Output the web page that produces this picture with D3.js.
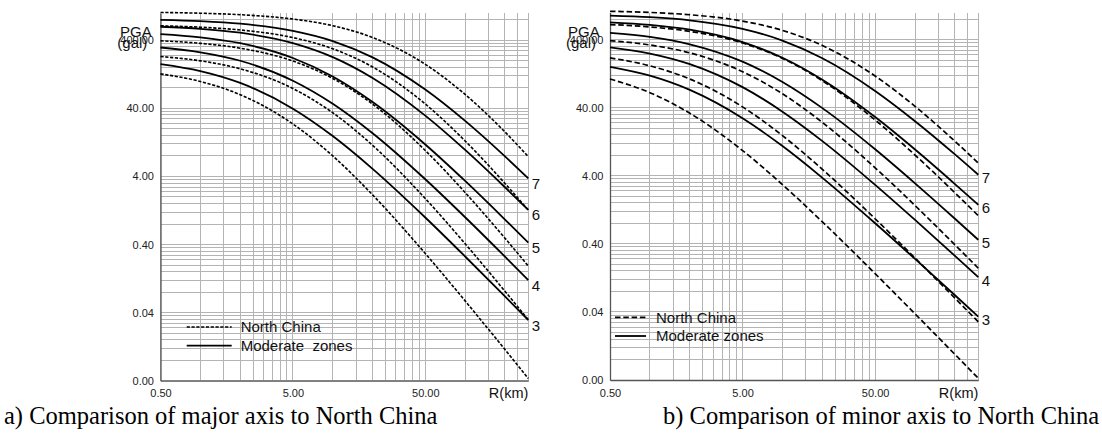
<!DOCTYPE html>
<html><head><meta charset="utf-8">
<script src="https://cdn.jsdelivr.net/npm/d3@7"></script>
<style>
html,body{margin:0;padding:0;background:#fff;}
svg text{font-family:"Liberation Sans",Arial,Helvetica,sans-serif;}
svg text.caption{font-family:"Liberation Serif","Times New Roman",serif;}
</style></head><body>
<svg id="chart" width="1102" height="434"></svg>
<script>
// ---------------- data ----------------
const distances = [0.5, 1, 2, 5, 10, 20, 50, 100, 200, 300];   // R (km)
const magnitudeLabels = ["7", "6", "5", "4", "3"];
const yTickValues = [0.004, 0.04, 0.4, 4, 40, 400];
const xTickValues = [0.5, 5, 50];

// a) major axis
const ncMajor7 = [1026, 999.5, 950, 821, 655, 440, 177.6, 64.1, 18.0, 7.82];
const ncMajor6 = [653.1, 622.6, 567.4, 438.2, 300.3, 162.2, 46.4, 13.29, 3.156, 1.283];
const ncMajor5 = [393.6, 360.8, 306.3, 198.3, 110.1, 46.2, 9.627, 2.323, 0.4951, 0.1935];
const ncMajor4 = [231.2, 199.6, 152.4, 78.3, 34.5, 11.47, 1.895, 0.4111, 0.0823, 0.0315];
const ncMajor3 = [128.5, 99.31, 63.58, 23.61, 8.014, 2.145, 0.2954, 0.0595, 0.01146, 0.004318];
const modMajor7 = [799.8, 764.5, 700.8, 551.3, 390.2, 224.7, 75.7, 26.21, 7.889, 3.744];
const modMajor6 = [632.4, 590.2, 517.1, 364.0, 226.5, 111.8, 31.26, 9.804, 2.775, 1.288];
const modMajor5 = [493.3, 442.8, 362.9, 220.0, 117.5, 49.6, 11.8, 3.434, 0.9307, 0.4252];
const modMajor4 = [313.3, 266.8, 200.3, 102.0, 46.76, 17.26, 3.640, 1.007, 0.2655, 0.1201];
const modMajor3 = [178.6, 141.2, 94.5, 39.57, 15.69, 5.176, 0.9986, 0.2669, 0.06902, 0.03103];

// b) minor axis
const ncMinor7 = [1042, 1002, 927.3, 747.8, 546.0, 327.8, 116.7, 41.77, 12.83, 6.141];
const ncMinor6 = [665.3, 614.4, 528.4, 356.6, 211.7, 99.54, 26.35, 8.054, 2.244, 1.035];
const ncMinor5 = [386.4, 333.3, 255.3, 135.2, 63.97, 24.26, 5.234, 1.461, 0.3870, 0.1753];
const ncMinor4 = [215.3, 164.7, 105.3, 41.08, 15.54, 4.960, 0.9337, 0.2472, 0.06362, 0.02856];
const ncMinor3 = [105.7, 66.37, 33.14, 9.380, 2.960, 0.8409, 0.1458, 0.03749, 0.009501, 0.004241];
const modMinor7 = [901.6, 852.4, 766.3, 574.8, 387.1, 212.7, 70.36, 25.29, 8.225, 4.139];
const modMinor6 = [717.8, 657.7, 558.6, 368.3, 216.3, 102.8, 29.10, 9.710, 3.020, 1.497];
const modMinor5 = [502.3, 437.6, 341.3, 189.5, 95.33, 39.38, 9.806, 3.098, 0.9352, 0.4584];
const modMinor4 = [308.3, 249.8, 174.7, 80.12, 34.96, 12.92, 2.943, 0.8982, 0.2660, 0.1296];
const modMinor3 = [158.9, 117.9, 72.92, 27.98, 10.91, 3.729, 0.8027, 0.2399, 0.07029, 0.03410];

const legendNames = ["North China", "Moderate zones"];
const captions = ["a) Comparison of major axis to North China", "b) Comparison of minor axis to North China"];

// ---------------- layout ----------------
const panels = [
  { x0: 160.5, x1: 528.3, yb: 380.7,
    nc: [ncMajor7, ncMajor6, ncMajor5, ncMajor4, ncMajor3],
    mod: [modMajor7, modMajor6, modMajor5, modMajor4, modMajor3],
    dash: "3.2,1.6", dashW: 1.6, labelDy: 5,
    legX1: 186.7, legX2: 231.7, legTextX: 240.7, legY1: 327, legY2: 345.7,
    modName: "Moderate  zones",
    pgaX: 120, galX: 117.3, caption: captions[0], capX: 4 },
  { x0: 610, x1: 978.3, yb: 380,
    nc: [ncMinor7, ncMinor6, ncMinor5, ncMinor4, ncMinor3],
    mod: [modMinor7, modMinor6, modMinor5, modMinor4, modMinor3],
    dash: "5.5,2.8", dashW: 1.7, labelDy: 3,
    legX1: 615, legX2: 646, legTextX: 656, legY1: 317.3, legY2: 336,
    modName: legendNames[1],
    pgaX: 568, galX: 566, caption: captions[1], capX: 663 }
];

const xGrid = [];
[0.5, 5, 50].forEach(b => { for (let k = 1; k <= 9; k++) { const v = b * k; if (v <= 300.0001) xGrid.push(v); } });
const yGrid = [];
[0.004, 0.04, 0.4, 4, 40, 400].forEach(b => { for (let k = 1; k <= 9; k++) { const v = b * k; if (v <= 1000) yGrid.push(v); } });

const svg = d3.select("#chart");

panels.forEach(p => {
  const g = svg.append("g");
  const x = d3.scaleLog().domain([0.5, 300]).range([p.x0, p.x1]);
  const y = d3.scaleLog().domain([0.004, 1000]).range([p.yb, p.yb - 367.5]);
  const top = y(1000);

  // grid
  g.append("g").selectAll("line").data(xGrid).join("line")
    .attr("x1", d => x(d)).attr("x2", d => x(d))
    .attr("y1", top).attr("y2", p.yb)
    .attr("stroke", "#b4b4b4").attr("stroke-width", 1).attr("shape-rendering", "crispEdges");
  g.append("g").selectAll("line").data(yGrid).join("line")
    .attr("y1", d => y(d)).attr("y2", d => y(d))
    .attr("x1", p.x0).attr("x2", p.x1)
    .attr("stroke", "#b4b4b4").attr("stroke-width", 1).attr("shape-rendering", "crispEdges");

  // axes
  const ya = g.append("g").attr("transform", `translate(${p.x0},0)`)
    .call(d3.axisLeft(y).tickValues(yTickValues).tickFormat(d3.format(".2f")).tickSize(0).tickSizeOuter(0).tickPadding(6.5));
  const xa = g.append("g").attr("transform", `translate(0,${p.yb})`)
    .call(d3.axisBottom(x).tickValues(xTickValues).tickFormat(d3.format(".2f")).tickSize(0).tickSizeOuter(0).tickPadding(8.8));
  [ya, xa].forEach(a => {
    a.select(".domain").attr("stroke", "#555").attr("stroke-width", 1.3);
    a.selectAll("text").attr("font-size", 11).attr("fill", "#222")
      .style("font-family", "'Liberation Sans',Arial,sans-serif");
  });

  // curves
  const line = d3.line().x((d, i) => x(distances[i])).y(d => y(d)).curve(d3.curveMonotoneX);
  g.append("g").selectAll("path").data(p.nc).join("path")
    .attr("d", line).attr("fill", "none").attr("stroke", "#000")
    .attr("stroke-width", p.dashW).attr("stroke-dasharray", p.dash);
  g.append("g").selectAll("path").data(p.mod).join("path")
    .attr("d", line).attr("fill", "none").attr("stroke", "#000").attr("stroke-width", 1.8);

  // magnitude labels at right end of moderate-zone curves
  g.append("g").selectAll("text").data(p.mod).join("text")
    .attr("x", p.x1 + 3.5)
    .attr("y", d => y(d[d.length - 1]) + p.labelDy)
    .attr("dy", "0.36em")
    .attr("font-size", 15).attr("fill", "#111")
    .text((d, i) => magnitudeLabels[i]);

  // axis titles
  g.append("text").attr("x", p.pgaX).attr("y", 36.5).attr("font-size", 15).attr("fill", "#111").text("PGA");
  g.append("text").attr("x", p.galX).attr("y", 48).attr("font-size", 15).attr("fill", "#111").text("(gal)");
  g.append("text").attr("x", p.x1).attr("y", 398).attr("text-anchor", "end")
    .attr("font-size", 14.5).attr("fill", "#111").text("R(km)");

  // legend
  g.append("line").attr("x1", p.legX1).attr("x2", p.legX2).attr("y1", p.legY1).attr("y2", p.legY1)
    .attr("stroke", "#000").attr("stroke-width", p.dashW).attr("stroke-dasharray", p.dash);
  g.append("line").attr("x1", p.legX1).attr("x2", p.legX2).attr("y1", p.legY2).attr("y2", p.legY2)
    .attr("stroke", "#000").attr("stroke-width", 1.8);
  g.append("text").attr("x", p.legTextX).attr("y", p.legY1).attr("dy", "0.36em")
    .attr("font-size", 15).attr("fill", "#111").text(legendNames[0]);
  g.append("text").attr("x", p.legTextX).attr("y", p.legY2).attr("dy", "0.36em")
    .attr("font-size", 15).attr("fill", "#111").style("white-space", "pre").text(p.modName);

  // caption
  g.append("text").attr("class", "caption").attr("x", p.capX).attr("y", 424)
    .attr("font-size", 24.5).attr("fill", "#000").text(p.caption);
});
</script>
</body></html>
